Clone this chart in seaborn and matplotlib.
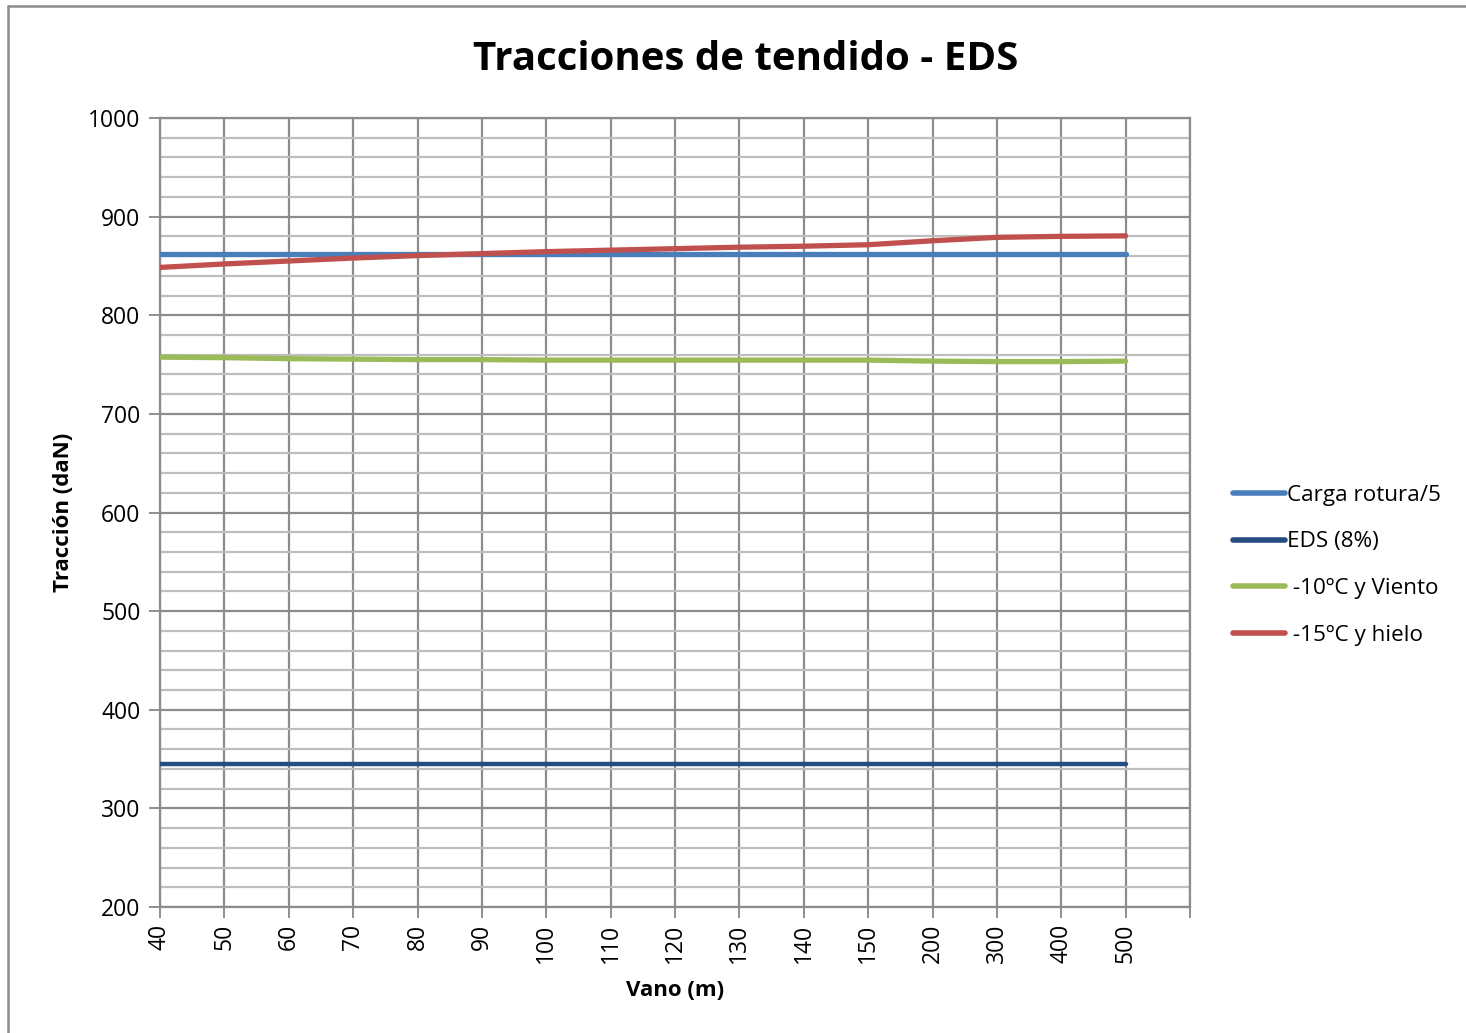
import numpy as np
import pandas as pd
import seaborn as sns
import matplotlib.pyplot as plt
from matplotlib.ticker import MultipleLocator
from matplotlib.lines import Line2D

# category labels of the x axis (span in m)
vanos = ['40', '50', '60', '70', '80', '90', '100', '110', '120', '130',
         '140', '150', '200', '300', '400', '500']

carga_rotura = [862] * 16
eds = [345] * 16
viento = [757.5, 757, 756, 755.5, 755, 755, 754.5, 754.5, 754.5, 754.5,
          754.5, 754.5, 753.5, 753, 753, 753.5]
hielo = [848.5, 852, 855, 858, 860.5, 862.5, 864.5, 866, 867.5, 869,
         870, 871.5, 875.5, 879, 880, 880.5]

series = ['Carga rotura/5', 'EDS (8%)', ' -10ºC y Viento', ' -15ºC y hielo']
colores = ['#4A7EBB', '#254D82', '#9BBB59', '#C0504D']
anchos = [3.8, 3.2, 3.8, 3.8]

df = pd.concat([
    pd.DataFrame({'pos': np.arange(len(vanos)), 'traccion': vals, 'serie': name})
    for name, vals in zip(series, [carga_rotura, eds, viento, hielo])
])

sns.set_style('white')
plt.rcParams['font.family'] = ['Open Sans', 'DejaVu Sans']
plt.rcParams['text.color'] = 'black'
plt.rcParams['axes.labelcolor'] = 'black'
plt.rcParams['xtick.labelcolor'] = 'black'
plt.rcParams['ytick.labelcolor'] = 'black'

fig = plt.figure(figsize=(14.66, 10.33), dpi=100)
ax = fig.add_axes([160 / 1466, 1 - 907 / 1033, 1030 / 1466, 789 / 1033])

for name, col, lw in zip(series, colores, anchos):
    sns.lineplot(data=df[df['serie'] == name], x='pos', y='traccion', ax=ax,
                 color=col, linewidth=lw, solid_capstyle='round', zorder=3,
                 legend=False)

ax.set_xlim(0, 16)
ax.set_ylim(200, 1000)
ax.set_xticks(np.arange(17))
ax.set_xticklabels(vanos + [''], rotation=90, fontsize=16.5)
ax.yaxis.set_major_locator(MultipleLocator(100))
ax.yaxis.set_minor_locator(MultipleLocator(20))
ax.tick_params(axis='y', which='major', length=8, width=1.3, color='#868686',
               labelsize=16.5, pad=6, direction='out', left=True)
ax.tick_params(axis='y', which='minor', length=0)
ax.tick_params(axis='x', length=8, width=1.3, color='#868686', pad=4,
               direction='out', bottom=True)

ax.grid(which='major', axis='both', color='#8C8C8C', linewidth=1.6, zorder=1)
ax.grid(which='minor', axis='y', color='#BEBEBE', linewidth=1.6, zorder=1)
ax.set_axisbelow(True)
for s in ax.spines.values():
    s.set_color('#8C8C8C')
    s.set_linewidth(1.6)

ax.set_xlabel('Vano (m)', fontsize=16, fontweight='bold', labelpad=12)
ax.set_ylabel('Tracción (daN)', fontsize=16, fontweight='bold', labelpad=10)
fig.text(746 / 1466, 1 - 60 / 1033, 'Tracciones de tendido - EDS',
         ha='center', va='center', fontsize=29, fontweight='bold')

handles = [Line2D([], [], color=c, linewidth=4, solid_capstyle='round')
           for c in colores]
ax.legend(handles, series, loc='center left', bbox_to_anchor=(1.033, 0.433),
          frameon=False, fontsize=16.2, handlelength=2.3, handletextpad=0.1,
          labelspacing=1.15, borderaxespad=0)

# outer chart frame (only top and left edges visible)
fig.add_artist(Line2D([7.5 / 1466, 1], [1 - 5.5 / 1033] * 2, color='#8C8C8C',
                      linewidth=1.8, transform=fig.transFigure))
fig.add_artist(Line2D([7.5 / 1466] * 2, [0, 1 - 5.5 / 1033], color='#8C8C8C',
                      linewidth=1.8, transform=fig.transFigure))

fig.savefig('out.png', dpi=100)
